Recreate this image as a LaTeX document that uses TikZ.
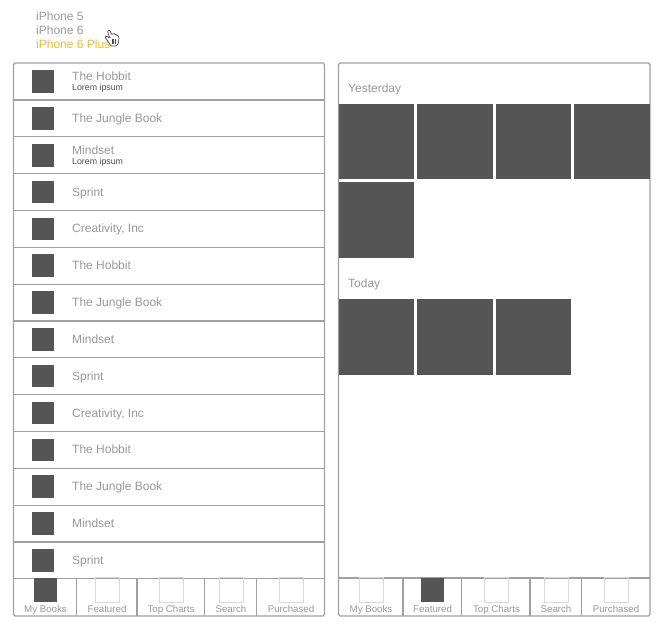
\documentclass[tikz,border=0pt]{standalone}
\usepackage{fontspec}
\setmainfont{Liberation Sans}
\usepackage{xcolor}
\usetikzlibrary{positioning}
\definecolor{frameGray}{HTML}{A0A0A0}
\definecolor{thumbGray}{HTML}{555555}
\definecolor{labelGray}{HTML}{989898}
\definecolor{pickGold}{HTML}{EFBB2C}
\tikzset{
  panel/.style={draw=frameGray, line width=1.2pt, rounded corners=1.5pt, fill=white},
  thumb/.style={fill=thumbGray, draw=none, inner sep=0pt, minimum width=22.5pt, minimum height=22.5pt},
  tile/.style={fill=thumbGray, draw=none, inner sep=0pt, minimum width=75.5pt, minimum height=75.5pt},
  tabicon/.style={draw=black!15, line width=0.6pt, inner sep=0pt, minimum width=24pt, minimum height=25pt},
  tabiconon/.style={fill=thumbGray, draw=none, inner sep=0pt, minimum width=23.5pt, minimum height=23.5pt},
  title/.style={text=labelGray, font=\fontsize{12}{14}\selectfont, anchor=base west, inner sep=0pt},
  sub/.style={text=black!70, font=\fontsize{8.8}{10}\selectfont, anchor=base west, inner sep=0pt},
  tablabel/.style={text=labelGray, font=\fontsize{9.7}{11}\selectfont, anchor=base, inner sep=0pt},
  device/.style={text=black!40, font=\fontsize{12}{14}\selectfont, anchor=base west, inner sep=0pt},
  divider/.style={draw=frameGray, line width=1.2pt}
}
\newcommand{\TabCell}[4]{%
  \node[#4] (#1i) at (#2,590) {};
  \node[tablabel] (#1t) at (#2,612) {#3};
}
\begin{document}
\begin{tikzpicture}[x=1pt,y=-1pt]
  \useasboundingbox (0,0) rectangle (664,628);
  % device list
  \node[device] (five) at (36,21) {iPhone 5};
  \node[device] (six) at (36,35) {iPhone 6};
  \node[device, text=pickGold] (plus) at (36,49) {iPhone 6 Plus};
  % cursor
  \draw[fill=white, draw=black!70, line width=0.7pt, rounded corners=0.8pt]
    (107.5,31) -- (109.5,30) -- (112,35) -- (113,33.5) -- (115,34) -- (116,35) -- (118,35.5) -- (119,37.5)
    -- (118.5,43) -- (116.5,46) -- (111,46) -- (107,40) -- (105,37) -- (106.5,36) -- (108.5,37.5) -- (109.5,37.5) -- cycle;
  \foreach \cx in {111.8,113.6,115.4}
    \draw[black!70, line width=0.6pt] (\cx,39.5) -- (\cx,44);
  % left panel
  \node[panel, minimum width=311pt, minimum height=553pt, inner sep=0pt] (left) at (169,339.5) {};
  \foreach \i/\name/\up in {0/The Hobbit/5,1/The Jungle Book/0,2/Mindset/5,3/Sprint/0,4/{Creativity, Inc}/0,5/The Hobbit/0,6/The Jungle Book/0,7/Mindset/0,8/Sprint/0,9/{Creativity, Inc}/0,10/The Hobbit/0,11/The Jungle Book/0,12/Mindset/0,13/Sprint/0} {
    \pgfmathsetmacro{\rowy}{81.6+36.83*\i}
    \node[thumb] (th\i) at (43,\rowy) {};
    \node[title] (bk\i) at (72,\rowy+4-\up) {\name};
    \pgfmathsetmacro{\liney}{100+36.83*\i}
    \draw[divider] (left.west |- 0,\liney) -- (left.east |- 0,\liney);
  }
  % first and third rows carry a subtitle
  \node[sub] (subA) at (72,91) {Lorem ipsum};
  \node[sub] (subB) at (72,165) {Lorem ipsum};
  % left tabs
  \foreach \x in {76.5,137,204.5,256.5}
    \draw[divider] (\x,578) -- (\x,616);
  \TabCell{la}{45.5}{My Books}{tabiconon}
  \TabCell{lb}{107}{Featured}{tabicon}
  \TabCell{lc}{171}{Top Charts}{tabicon}
  \TabCell{ld}{231}{Search}{tabicon}
  \TabCell{le}{291}{Purchased}{tabicon}
  % right panel
  \node[panel, minimum width=311.5pt, minimum height=553pt, inner sep=0pt] (right) at (494.25,339.5) {};
  \node[title] (yday) at (348,93) {Yesterday};
  \node[title] (tday) at (348,288) {Today};
  \foreach \x/\y/\n in {376.25/141.5/a,455/141.5/b,533.5/141.5/c,612/141.5/d,376.25/220/e,376.25/337/f,455/337/g,533.5/337/h}
    \node[tile] (tile\n) at (\x,\y) {};
  % right tabs
  \draw[divider] (338.5,578) -- (650,578);
  \foreach \x in {403,461.5,530,581.5}
    \draw[divider] (\x,578) -- (\x,616);
  \TabCell{ra}{371}{My Books}{tabicon}
  \TabCell{rb}{432.5}{Featured}{tabiconon}
  \TabCell{rc}{496.5}{Top Charts}{tabicon}
  \TabCell{rd}{556}{Search}{tabicon}
  \TabCell{re}{616}{Purchased}{tabicon}
\end{tikzpicture}
\end{document}
